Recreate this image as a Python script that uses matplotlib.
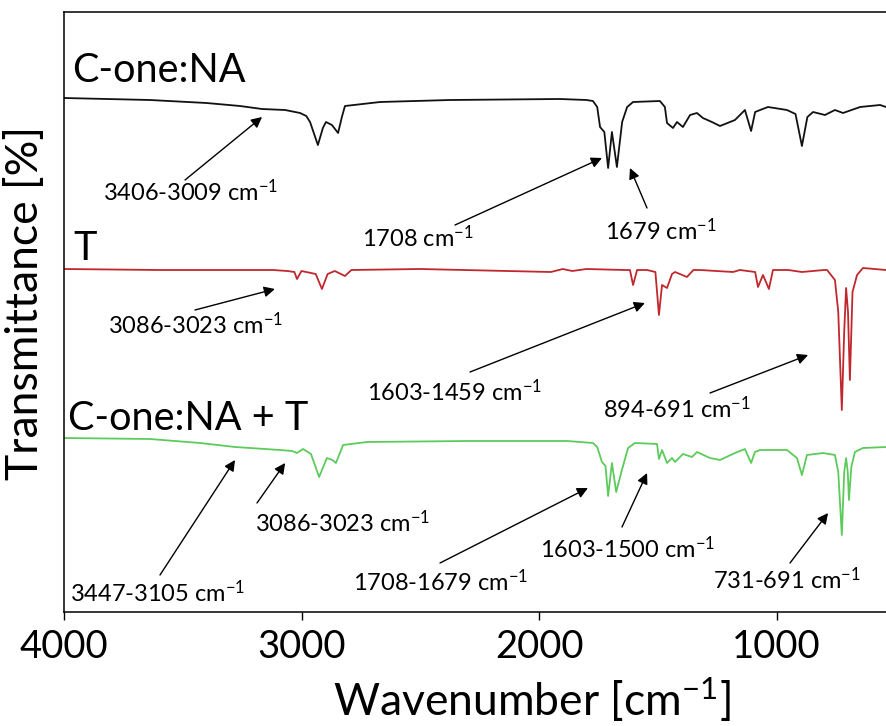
import matplotlib
matplotlib.use("Agg")
import matplotlib.pyplot as plt

plt.rcParams['font.family'] = ['Lato', 'DejaVu Sans']
plt.rcParams['mathtext.default'] = 'regular'

# ---------------- data ----------------
series_names = ["C-one:NA", "T", "C-one:NA + T"]

wn_cone = [4000, 3638, 3400, 3259, 3166, 3069, 3006, 2980, 2964, 2931, 2910, 2897, 2872, 2846, 2830, 2817,
           2669, 2375, 1912, 1800, 1773, 1755, 1743, 1725, 1709, 1693, 1672, 1650, 1629, 1604, 1491,
           1470, 1461, 1436, 1419, 1394, 1364, 1335, 1310, 1272, 1238, 1175, 1133, 1107, 1090, 1069,
           1036, 956, 920, 893, 870, 846, 796, 754, 720, 648, 564, 539]
y_cone = [514, 512, 509, 506, 503, 502, 499, 496, 490, 467, 484, 490, 487, 479, 495, 506,
          510, 512, 513, 512, 511, 505, 485, 480, 444, 480, 445, 490, 505, 510, 511,
          505, 489, 484, 490, 485, 497, 499, 494, 490, 486, 492, 502, 481, 500, 502,
          505, 502, 498, 466, 495, 500, 497, 502, 499, 505, 507, 505]

wn_t = [4000, 3600, 3300, 3120, 3060, 3030, 3019, 3000, 2940, 2914, 2890, 2860, 2817, 2790, 2500,
        1950, 1900, 1860, 1800, 1640, 1617, 1604, 1587, 1545, 1510, 1495, 1482, 1461, 1440, 1427,
        1377, 1350, 1322, 1183, 1154, 1090, 1078, 1057, 1032, 1015, 950, 893, 800, 787, 754,
        740, 725, 715, 707, 699, 691, 680, 661, 636, 539]
y_t = [343, 342, 342, 342, 341, 340, 333, 341, 338, 323, 338, 341, 336, 342, 343,
       340, 343, 341, 343, 342, 342, 327, 342, 342, 340, 297, 327, 324, 338, 340,
       335, 342, 342, 340, 342, 340, 325, 337, 323, 342, 342, 340, 342, 342, 332,
       300, 202, 280, 324, 300, 232, 320, 337, 344, 342]

wn_mix = [4000, 3638, 3427, 3280, 3091, 3040, 3019, 2994, 2960, 2926, 2893, 2870, 2855, 2825, 2724,
          2303, 1882, 1773, 1755, 1735, 1720, 1709, 1693, 1675, 1651, 1625, 1596, 1503, 1495, 1482,
          1461, 1440, 1427, 1394, 1356, 1335, 1280, 1238, 1175, 1133, 1107, 1091, 1069, 956, 914,
          893, 872, 804, 754, 740, 725, 715, 707, 700, 695, 685, 670, 636, 539]
y_mix = [174, 173, 169, 165, 162, 161, 159, 163, 158, 135, 154, 152, 149, 167, 170,
         171, 171, 169, 165, 150, 146, 116, 149, 120, 142, 164, 169, 168, 153, 162,
         149, 154, 150, 158, 155, 160, 154, 152, 159, 163, 149, 160, 162, 162, 154,
         137, 157, 159, 157, 140, 77, 140, 154, 140, 112, 145, 160, 164, 165]

colors = ["#111111", "#C0282D", "#5CCB5C"]

# annotation texts and arrow tips (wn, y)
ann_text = ["3406-3009 cm$^{-1}$", "1708 cm$^{-1}$", "1679 cm$^{-1}$",
            "3086-3023 cm$^{-1}$", "1603-1459 cm$^{-1}$", "894-691 cm$^{-1}$",
            "3447-3105 cm$^{-1}$", "3086-3023 cm$^{-1}$", "1708-1679 cm$^{-1}$",
            "1603-1500 cm$^{-1}$", "731-691 cm$^{-1}$"]
ann_tip = [(3166, 495), (1735, 454), (1617, 444),
           (3112, 323), (1554, 309), (867, 257),
           (3280, 152), (3069, 149), (1794, 124),
           (1545, 139), (783, 99)]

# ---------------- figure ----------------
W, H = 886, 726
fig = plt.figure(figsize=(W / 100, H / 100), dpi=100)
ax_left, ax_right, ax_top, ax_bot = 64, 886, 12, 612
ax = fig.add_axes([ax_left / W, (H - ax_bot) / H, (ax_right - ax_left) / W, (ax_bot - ax_top) / H])

for wn, y, c in zip([wn_cone, wn_t, wn_mix], [y_cone, y_t, y_mix], colors):
    ax.plot(wn, y, color=c, lw=1.3, solid_joinstyle='round')

ax.set_xlim(4000, 539)
ax.set_ylim(0, 600)
ax.set_xticks([4000, 3000, 2000, 1000])
ax.set_yticks([])
ax.tick_params(axis='x', direction='out', length=6, width=1.0, labelsize=27.5, pad=6)
for s in ['left', 'bottom', 'top']:
    ax.spines[s].set_linewidth(1.1)
ax.spines['right'].set_visible(False)

ax.set_xlabel("Wavenumber [cm$^{-1}$]", fontsize=32)
ax.xaxis.set_label_coords((532 - ax_left) / (ax_right - ax_left), (ax_bot - 676) / (ax_bot - ax_top))
ax.set_ylabel("Transmittance [%]", fontsize=32)
ax.yaxis.set_label_coords(-(ax_left - 46) / (ax_right - ax_left), 0.515)

def px(x, y):
    """figure pixel (from top-left) -> axes fraction"""
    return ((x - ax_left) / (ax_right - ax_left), (ax_bot - y) / (ax_bot - ax_top))

# series labels
label_pos = [(72, 70), (73, 248), (68, 418)]
for name, (x, y) in zip(series_names, label_pos):
    ax.text(*px(x, y), name, transform=ax.transAxes, fontsize=28.5, ha='left', va='center')

# annotation layout (pixel positions of text left/center and arrow tails)
text_pos = [(103, 192), (362, 238), (605, 231),
            (108, 325), (367, 392), (603, 409),
            (70, 593), (255, 523), (353, 582),
            (540, 549), (713, 580)]
tail_pos = [(185, 180), (455, 225), (647, 208),
            (195, 310), (470, 372), (710, 393),
            (160, 575), (257, 503), (440, 563),
            (622, 527), (790, 563)]

for t, (tx, ty), (ax_, ay_), tip in zip(ann_text, text_pos, tail_pos, ann_tip):
    ax.text(*px(tx, ty), t, transform=ax.transAxes, fontsize=17, ha='left', va='center')
    ax.annotate('', xy=tip, xycoords='data', xytext=px(ax_, ay_), textcoords='axes fraction',
                arrowprops=dict(arrowstyle='-|>', color='black', lw=1.0, mutation_scale=16,
                                shrinkA=0, shrinkB=0))

fig.savefig("out.png", dpi=100)
